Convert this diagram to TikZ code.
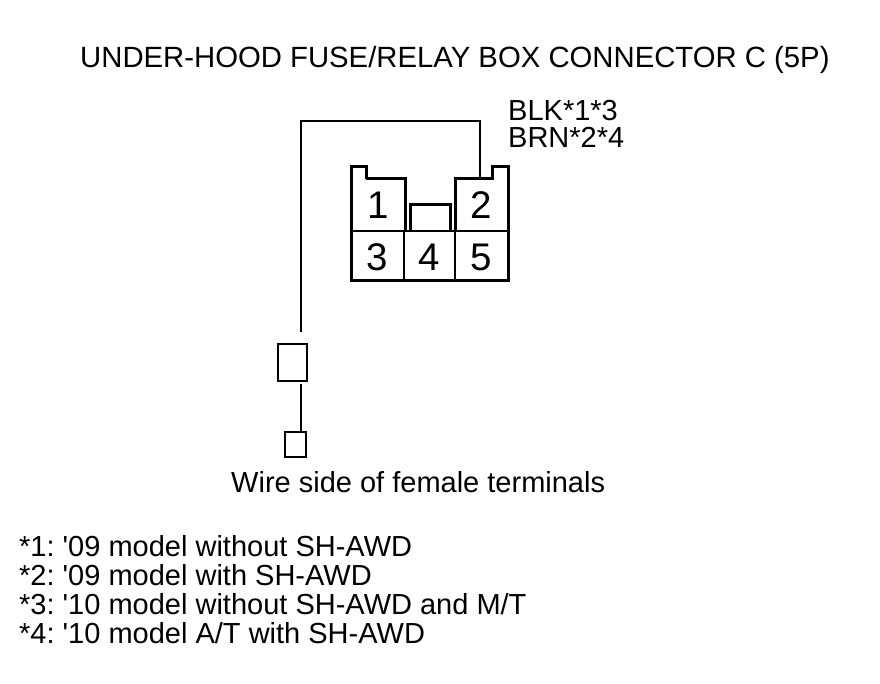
\documentclass[tikz,border=0pt]{standalone}
\usepackage{fontspec}
\setmainfont{Liberation Sans}
\frenchspacing
\begin{document}
\begin{tikzpicture}[x=1pt,y=-1pt,
  txt/.style={anchor=base west,inner sep=0pt,font=\fontsize{29}{34}\selectfont},
  pin/.style={anchor=base,inner sep=0pt,font=\fontsize{38.5}{44}\selectfont},
  outline/.style={line width=3pt,line join=miter},
  thinwire/.style={line width=1.2pt},
  thickwire/.style={line width=2.5pt},
  termbox/.style={draw,line width=1.3pt,inner sep=0pt}]
\useasboundingbox (0,0) rectangle (880,684);
% title
\node[txt,font=\fontsize{29.3}{34}\selectfont] (title) at (80,68) {UNDER-HOOD FUSE/RELAY BOX CONNECTOR C (5P)};
% wire colour labels
\node[txt] (blk) at (508,121) {BLK*1*3};
\node[txt] (brn) at (508,148) {BRN*2*4};
% connector outline
\draw[outline] (366,179) -- (366,167) -- (351,167) -- (351,281) -- (508,281) -- (508,167) -- (492,167) -- (492,179) -- (455,179) -- (455,231);
\draw[outline] (366,179) -- (405,179) -- (405,231);
\draw[outline] (410,231) -- (410,205) -- (450,205) -- (450,231);
\draw[line width=2.5pt] (351,231) -- (508,231);
\draw[line width=2pt] (404,231) -- (404,281);
\draw[line width=2pt] (455,231) -- (455,281);
% pin numbers
\node[pin] (p1) at (378,219) {1};
\node[pin] (p2) at (481,219) {2};
\node[pin] (p3) at (377,271) {3};
\node[pin] (p4) at (429,271) {4};
\node[pin] (p5) at (481,271) {5};
% wire
\coordinate (pin2top) at (480,179);
\coordinate (wirebend) at (480,121);
\coordinate (wireleft) at (301,121);
\coordinate (wireend) at (301,332);
\draw[thinwire] (pin2top) -- (wirebend) -- (wireleft) -- (wireend);
% terminals
\node[termbox,minimum width=29pt,minimum height=37pt] (t1) at (292.5,362.5) {};
\node[termbox,minimum width=21pt,minimum height=25pt] (t2) at (295.5,444.5) {};
\draw[thickwire] (301,384) -- (301,433);
% caption
\node[txt] (cap) at (231,492) {Wire side of female terminals};
% footnotes
\node[txt] (n1) at (19,556) {*1: \textquotesingle 09 model without SH-AWD};
\node[txt] (n2) at (19,585) {*2: \textquotesingle 09 model with SH-AWD};
\node[txt] (n3) at (19,614) {*3: \textquotesingle 10 model without SH-AWD and M/T};
\node[txt] (n4) at (19,643) {*4: \textquotesingle 10 model A/T with SH-AWD};
\end{tikzpicture}
\end{document}
